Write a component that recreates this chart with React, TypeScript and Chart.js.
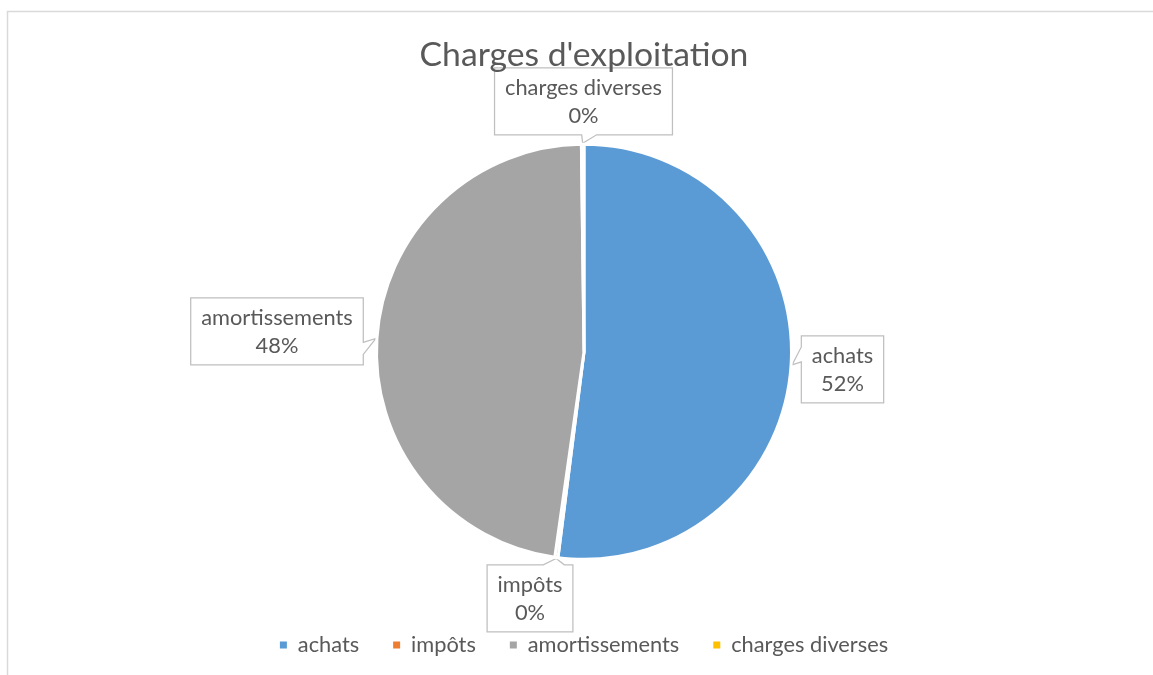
import React, { useEffect, useRef } from "react";
import { Chart, registerables } from "chart.js";

Chart.register(...registerables);

// ---- data ----
const TITLE = "Charges d'exploitation";
const categories = ["achats", "impôts", "amortissements", "charges diverses"];
const values = [52.0, 0.25, 47.55, 0.2];
const colors = ["#5B9BD5", "#ED7D31", "#A5A5A5", "#FFC000"];

// ---- callout styling (box centre offset from pie centre, notch base relative to tip) ----
const calloutOffsets: [number, number][] = [
  [258.5, 17.5],
  [-54, 246.5],
  [-307, -20.5],
  [-0.5, -250.5],
];
const notchRanges: [number, number][] = [
  [-18, -3],
  [-13, 8],
  [4, 16],
  [-1, 14],
];

const FONT = "Lato, 'Open Sans', sans-serif";
const TEXT = "#595959";
const LABEL_SIZE = 21.8;

const calloutPlugin = {
  id: "callouts",
  beforeDraw(chart: any) {
    const ctx: CanvasRenderingContext2D = chart.ctx;
    ctx.save();
    // outer frame of the chart object
    ctx.strokeStyle = "#D9D9D9";
    ctx.lineWidth = 1.5;
    ctx.beginPath();
    ctx.moveTo(7.5, chart.height);
    ctx.lineTo(7.5, 11.5);
    ctx.lineTo(chart.width, 11.5);
    ctx.stroke();

    const meta = chart.getDatasetMeta(0);
    const ds = chart.data.datasets[0].data as number[];
    const total = ds.reduce((a, b) => a + b, 0);
    ctx.font = `${LABEL_SIZE}px ${FONT}`;
    meta.data.forEach((arc: any, i: number) => {
      const { x, y, startAngle, endAngle, outerRadius } = arc.getProps(
        ["x", "y", "startAngle", "endAngle", "outerRadius"],
        true
      );
      const mid = (startAngle + endAngle) / 2;
      const tx = x + Math.cos(mid) * (outerRadius + 1);
      const ty = y + Math.sin(mid) * (outerRadius + 1);
      const l1 = String(chart.data.labels[i]);
      const l2 = Math.round((ds[i] / total) * 100) + "%";
      const w = Math.max(ctx.measureText(l1).width, ctx.measureText(l2).width) + 21;
      const h = 67;
      const cx = x + calloutOffsets[i][0];
      const cy = y + calloutOffsets[i][1];
      const L = cx - w / 2, R = cx + w / 2, T = cy - h / 2, B = cy + h / 2;
      const side = ty > B ? "bottom" : ty < T ? "top" : tx < L ? "left" : "right";
      const [n0, n1] = notchRanges[i];
      ctx.beginPath();
      ctx.moveTo(L, T);
      if (side === "top") {
        ctx.lineTo(tx + n0, T);
        ctx.lineTo(tx, ty);
        ctx.lineTo(tx + n1, T);
      }
      ctx.lineTo(R, T);
      if (side === "right") {
        ctx.lineTo(R, ty + n0);
        ctx.lineTo(tx, ty);
        ctx.lineTo(R, ty + n1);
      }
      ctx.lineTo(R, B);
      if (side === "bottom") {
        ctx.lineTo(tx + n1, B);
        ctx.lineTo(tx, ty);
        ctx.lineTo(tx + n0, B);
      }
      ctx.lineTo(L, B);
      if (side === "left") {
        ctx.lineTo(L, ty + n1);
        ctx.lineTo(tx, ty);
        ctx.lineTo(L, ty + n0);
      }
      ctx.closePath();
      ctx.fillStyle = "#FFFFFF";
      ctx.fill();
      ctx.strokeStyle = "#BFBFBF";
      ctx.lineWidth = 1.25;
      ctx.stroke();
      ctx.fillStyle = TEXT;
      ctx.textAlign = "center";
      ctx.textBaseline = "middle";
      ctx.fillText(l1, cx, cy - 13.5);
      ctx.fillText(l2, cx, cy + 14.5);
    });
    ctx.restore();
  },
};

export default function App() {
  const ref = useRef<HTMLCanvasElement | null>(null);
  useEffect(() => {
    if (!ref.current) return;
    const defaultGen = (Chart as any).overrides.pie.plugins.legend.labels.generateLabels;
    const chart = new Chart(ref.current, {
      type: "pie",
      data: {
        labels: categories,
        datasets: [
          {
            data: values,
            backgroundColor: colors,
            borderColor: "#FFFFFF",
            borderWidth: 3,
            radius: 207.5,
          } as any,
        ],
      },
      options: {
        responsive: true,
        maintainAspectRatio: false,
        animation: false,
        events: [],
        radius: 207.5,
        layout: { padding: { left: 15, right: 0, top: 0, bottom: 9.2 } },
        plugins: {
          title: {
            display: true,
            text: TITLE,
            color: TEXT,
            font: { family: FONT, size: 33.7, weight: "normal" },
            padding: { top: 34.6, bottom: 28.6 },
          },
          legend: {
            position: "bottom",
            labels: {
              color: TEXT,
              font: { family: FONT, size: LABEL_SIZE },
              boxWidth: 7,
              boxHeight: 7,
              padding: 34,
              generateLabels: (c: any) =>
                defaultGen(c).map((l: any) => ({ ...l, lineWidth: 0, strokeStyle: l.fillStyle })),
            },
          },
          tooltip: { enabled: false },
        },
      } as any,
      plugins: [calloutPlugin],
    });
    return () => chart.destroy();
  }, []);
  return (
    <div style={{ position: "absolute", left: 0, top: 0, width: 1153, height: 675, background: "#fff" }}>
      <canvas ref={ref} />
    </div>
  );
}
